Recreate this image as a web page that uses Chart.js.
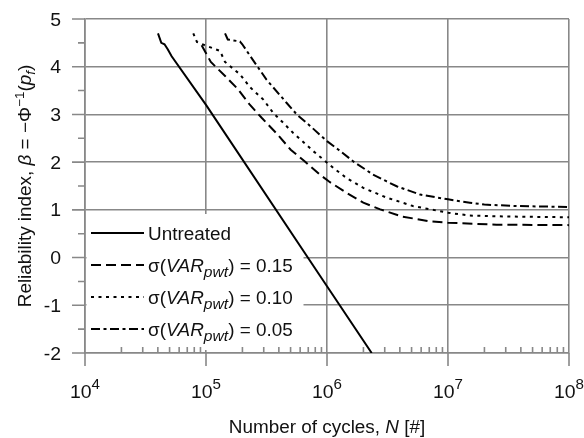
<!DOCTYPE html>
<html><head><meta charset="utf-8">
<script src="https://cdn.jsdelivr.net/npm/chart.js@4/dist/chart.umd.min.js"></script>
<style>html,body{margin:0;padding:0;background:#fff;overflow:hidden}canvas{display:block}</style>
</head><body>
<div style="width:584px;height:438px"><canvas id="c" width="584" height="438"></canvas></div>
<script>
// ---- data ----
const untreatedN    = [40100, 42700, 45400, 48400, 52000, 1.0e5, 1.0e6, 2.34e6];
const untreatedBeta = [4.70, 4.50, 4.47, 4.36, 4.22, 3.20, -0.60, -2.00];

const sd015N    = [9.20e4, 1.096e5, 1.445e5, 1.82e5, 2.291e5, 2.884e5, 3.837e5, 5.012e5, 6.457e5, 8.71e5, 1.059e6, 1.445e6, 1.995e6, 2.754e6, 4.169e6, 7.079e6, 1.0e7, 2.512e7, 1.0e8];
const sd015Beta = [4.45, 4.10, 3.80, 3.54, 3.21, 2.93, 2.60, 2.26, 2.03, 1.74, 1.58, 1.36, 1.15, 1.01, 0.86, 0.76, 0.73, 0.69, 0.68];

const sd010N    = [7.85e4, 8.41e4, 9.77e4, 1.306e5, 1.436e5, 1.91e5, 2.312e5, 2.979e5, 3.597e5, 4.365e5, 5.26e5, 7.709e5, 1.127e6, 1.445e6, 1.995e6, 3.09e6, 5.129e6, 1.0e7, 1.514e7, 3.162e7, 1.0e8];
const sd010Beta = [4.70, 4.52, 4.45, 4.33, 4.10, 3.84, 3.57, 3.31, 3.03, 2.82, 2.61, 2.23, 1.88, 1.67, 1.46, 1.26, 1.08, 0.94, 0.88, 0.86, 0.845];

const sd005N    = [1.436e5, 1.514e5, 1.905e5, 1.995e5, 2.339e5, 3.162e5, 4.645e5, 5.623e5, 7.244e5, 1.0e6, 1.245e6, 1.66e6, 2.399e6, 3.09e6, 3.802e6, 5.888e6, 1.0e7, 1.514e7, 1.995e7, 3.715e7, 1.0e8];
const sd005Beta = [4.70, 4.57, 4.53, 4.47, 4.21, 3.73, 3.24, 3.00, 2.76, 2.44, 2.26, 2.01, 1.74, 1.60, 1.49, 1.32, 1.22, 1.15, 1.11, 1.08, 1.06];

const seriesNames = ['Untreated', 'σ(VARpwt) = 0.15', 'σ(VARpwt) = 0.10', 'σ(VARpwt) = 0.05'];
const sigmaValues = ['0.15', '0.10', '0.05'];
const xTickExponents = [4, 5, 6, 7, 8];
const yTickValues = [5, 4, 3, 2, 1, 0, -1, -2];

// ---- helpers ----
const zip = (xs, ys) => xs.map((x, i) => ({x: x, y: ys[i]}));
const FONT = '"Liberation Sans", Arial, Helvetica, sans-serif';
const INK = '#000000';
const GRID = '#888888';

function drawRich(ctx, segs, x, y, align, size, sx) {
  const fontFor = s => (s.it ? 'italic ' : '') + (s.size || size) + 'px ' + FONT;
  let w = 0;
  segs.forEach(s => { ctx.font = fontFor(s); s.w = ctx.measureText(s.t).width; w += s.w; });
  ctx.save();
  ctx.translate(x, y);
  ctx.scale(sx, 1);
  ctx.textBaseline = 'alphabetic';
  ctx.textAlign = 'left';
  ctx.fillStyle = '#111';
  let cx = align === 'center' ? -w / 2 : (align === 'right' ? -w : 0);
  segs.forEach(s => { ctx.font = fontFor(s); ctx.fillText(s.t, cx, s.dy || 0); cx += s.w; });
  ctx.restore();
}

const isDecade = v => Math.abs(Math.log10(v) - Math.round(Math.log10(v))) < 1e-6;

const decor = {
  id: 'decor',
  beforeDatasetsDraw(chart) {
    const ctx = chart.ctx, a = chart.chartArea;
    ctx.save();
    ctx.fillStyle = '#fff';
    ctx.fillRect(a.left + 1.5, 214, 217, 136);
    ctx.restore();
  },
  afterDraw(chart) {
    const ctx = chart.ctx, a = chart.chartArea;
    const xs = chart.scales.x, ys = chart.scales.y;
    ctx.save();
    ctx.strokeStyle = GRID;
    ctx.lineWidth = 1.6;
    ctx.beginPath();
    yTickValues.forEach(v => {
      const py = ys.getPixelForValue(v);
      ctx.moveTo(a.left - 13, py); ctx.lineTo(a.left, py);
      if (v > -2) {
        const pm = ys.getPixelForValue(v - 0.5);
        ctx.moveTo(a.left - 7, pm); ctx.lineTo(a.left, pm);
      }
    });
    xTickExponents.forEach(e => {
      const px = xs.getPixelForValue(Math.pow(10, e));
      ctx.moveTo(px, a.bottom); ctx.lineTo(px, a.bottom + 13);
      if (e < 8) {
        for (let m = 2; m <= 9; m++) {
          const pm = xs.getPixelForValue(m * Math.pow(10, e));
          ctx.moveTo(pm, a.bottom); ctx.lineTo(pm, a.bottom - 6);
        }
      }
    });
    ctx.stroke();
    ctx.restore();

    const SX = 1.08;
    yTickValues.forEach(v => {
      const py = ys.getPixelForValue(v);
      drawRich(ctx, [{t: String(v)}], 61, py + 6.5, 'right', 18, SX);
    });
    xTickExponents.forEach(e => {
      const px = xs.getPixelForValue(Math.pow(10, e));
      drawRich(ctx, [{t: '10'}, {t: String(e), size: 14, dy: -9}], px, 398, 'center', 18, SX);
    });
    drawRich(ctx, [{t: 'Number of cycles, '}, {t: 'N', it: true}, {t: ' [#]'}], (a.left + a.right) / 2, 433, 'center', 17.5, SX);
    ctx.save();
    ctx.translate(31, (a.top + a.bottom) / 2);
    ctx.rotate(-Math.PI / 2);
    drawRich(ctx, [
      {t: 'Reliability index, '}, {t: 'β', it: true}, {t: ' = −Φ'},
      {t: '−1', size: 12.5, dy: -7}, {t: '('}, {t: 'p', it: true},
      {t: 'f', it: true, size: 12.5, dy: 4}, {t: ')'}
    ], 0, 0, 'center', 17.5, SX);
    ctx.restore();

    const rows = [233, 265, 297, 329];
    chart.data.datasets.forEach((ds, i) => {
      const y = rows[i];
      ctx.save();
      ctx.strokeStyle = ds.borderColor;
      ctx.lineWidth = ds.borderWidth;
      ctx.setLineDash(ds.borderDash || []);
      ctx.beginPath(); ctx.moveTo(91, y); ctx.lineTo(144, y); ctx.stroke();
      ctx.restore();
      let segs;
      if (i === 0) segs = [{t: seriesNames[0]}];
      else segs = [{t: 'σ('}, {t: 'VAR', it: true}, {t: 'pwt', it: true, size: 14.5, dy: 5.5}, {t: ') = ' + sigmaValues[i - 1]}];
      drawRich(ctx, segs, 148, y + 6.5, 'left', 17.5, SX);
    });
  }
};

const common = {pointRadius: 0, borderColor: INK, fill: false, tension: 0};
new Chart(document.getElementById('c'), {
  type: 'line',
  data: {
    datasets: [
      Object.assign({label: seriesNames[0], data: zip(untreatedN, untreatedBeta), borderWidth: 2, borderDash: []}, common),
      Object.assign({label: seriesNames[1], data: zip(sd015N, sd015Beta), borderWidth: 2, borderDash: [10, 5]}, common),
      Object.assign({label: seriesNames[2], data: zip(sd010N, sd010Beta), borderWidth: 2, borderDash: [3, 4.5]}, common),
      Object.assign({label: seriesNames[3], data: zip(sd005N, sd005Beta), borderWidth: 2, borderDash: [9, 3.5, 3, 3.5]}, common)
    ]
  },
  options: {
    responsive: false,
    animation: false,
    layout: {padding: {left: 85, right: 15, top: 19, bottom: 85}},
    plugins: {legend: {display: false}, tooltip: {enabled: false}},
    scales: {
      x: {
        type: 'logarithmic', min: 1e4, max: 1e8,
        ticks: {display: false},
        grid: {drawTicks: false, lineWidth: 1.6, color: c => (c.tick && isDecade(c.tick.value)) ? GRID : 'rgba(0,0,0,0)'},
        border: {display: true, color: GRID, width: 1.6}
      },
      y: {
        type: 'linear', min: -2, max: 5,
        ticks: {display: false, stepSize: 1},
        grid: {drawTicks: false, lineWidth: 1.6, color: GRID},
        border: {display: true, color: GRID, width: 1.6}
      }
    }
  },
  plugins: [decor]
});
</script>
</body></html>
